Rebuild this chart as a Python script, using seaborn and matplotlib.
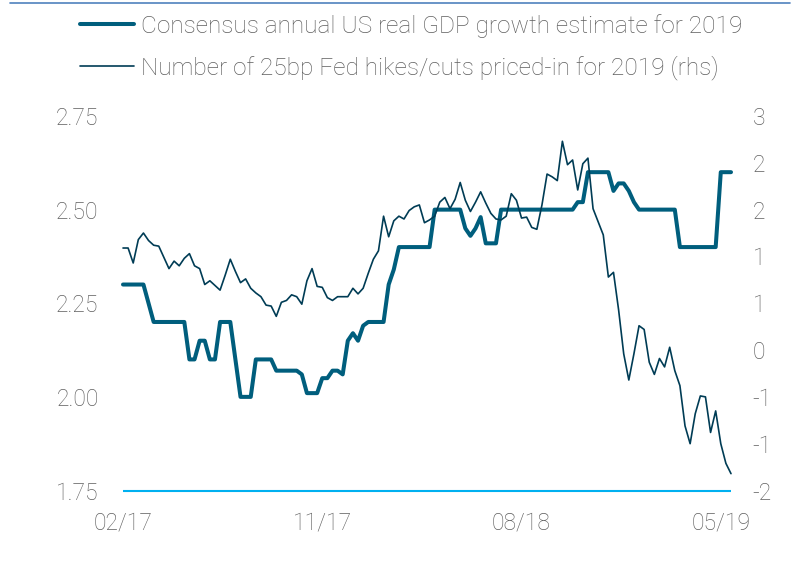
import numpy as np
import pandas as pd
import seaborn as sns
import matplotlib.pyplot as plt
import matplotlib.dates as mdates
from matplotlib.ticker import FuncFormatter
from matplotlib.lines import Line2D

# weekly observations, Feb 2017 - May 2019
dates = pd.date_range("2017-02-01", periods=120, freq="7D")

gdp_estimate = [
    2.30, 2.30, 2.30, 2.30, 2.30, 2.25, 2.20, 2.20, 2.20, 2.20,
    2.20, 2.20, 2.20, 2.10, 2.10, 2.15, 2.15, 2.10, 2.10, 2.20,
    2.20, 2.20, 2.10, 2.00, 2.00, 2.00, 2.10, 2.10, 2.10, 2.10,
    2.07, 2.07, 2.07, 2.07, 2.07, 2.06, 2.01, 2.01, 2.01, 2.05,
    2.05, 2.07, 2.07, 2.06, 2.15, 2.17, 2.15, 2.19, 2.20, 2.20,
    2.20, 2.20, 2.30, 2.34, 2.40, 2.40, 2.40, 2.40, 2.40, 2.40,
    2.40, 2.50, 2.50, 2.50, 2.50, 2.50, 2.50, 2.45, 2.43, 2.45,
    2.48, 2.41, 2.41, 2.41, 2.50, 2.50, 2.50, 2.50, 2.50, 2.50,
    2.50, 2.50, 2.50, 2.50, 2.50, 2.50, 2.50, 2.50, 2.50, 2.52,
    2.52, 2.60, 2.60, 2.60, 2.60, 2.60, 2.55, 2.57, 2.57, 2.55,
    2.52, 2.50, 2.50, 2.50, 2.50, 2.50, 2.50, 2.50, 2.50, 2.40,
    2.40, 2.40, 2.40, 2.40, 2.40, 2.40, 2.40, 2.60, 2.60, 2.60,
]

fed_hikes = [
    1.09, 1.09, 0.93, 1.18, 1.25, 1.17, 1.12, 1.11, 0.99, 0.87,
    0.95, 0.90, 0.98, 1.03, 0.90, 0.87, 0.70, 0.74, 0.69, 0.64,
    0.80, 0.97, 0.84, 0.72, 0.76, 0.66, 0.61, 0.57, 0.48, 0.47,
    0.36, 0.51, 0.53, 0.59, 0.57, 0.49, 0.74, 0.87, 0.68, 0.67,
    0.56, 0.53, 0.57, 0.57, 0.57, 0.66, 0.60, 0.66, 0.82, 0.97,
    1.06, 1.43, 1.21, 1.38, 1.43, 1.40, 1.49, 1.53, 1.55, 1.36,
    1.39, 1.43, 1.58, 1.63, 1.51, 1.61, 1.79, 1.60, 1.48, 1.58,
    1.69, 1.57, 1.46, 1.40, 1.39, 1.43, 1.67, 1.60, 1.41, 1.42,
    1.31, 1.29, 1.55, 1.88, 1.85, 1.81, 2.23, 1.98, 2.03, 1.71,
    1.99, 2.05, 1.51, 1.37, 1.23, 0.78, 0.83, 0.43, -0.04, -0.32,
    -0.04, 0.26, 0.22, -0.13, -0.26, -0.09, -0.18, 0.03, -0.22, -0.38,
    -0.81, -1.00, -0.68, -0.49, -0.50, -0.88, -0.65, -1.00, -1.21, -1.32,
]

x_ticks = ["2017-02-01", "2017-11-01", "2018-08-01", "2019-05-01"]
left_ticks = [1.75, 2.00, 2.25, 2.50, 2.75]
right_ticks = [-1.5, -1.0, -0.5, 0.0, 0.5, 1.0, 1.5, 2.0, 2.5]

gdp_label = "Consensus annual US real GDP growth estimate for 2019"
fed_label = "Number of 25bp Fed hikes/cuts priced-in for 2019 (rhs)"

GDP_C = "#005E7D"
FED_C = "#003C55"
BASE_C = "#00B0F0"
TEXT_C = "#5F5F5F"

df = pd.DataFrame({"date": dates, "gdp": gdp_estimate, "fed": fed_hikes})

sns.set_style("white")
plt.rcParams["font.family"] = ["Roboto", "DejaVu Sans"]
plt.rcParams["font.weight"] = "light"

fig = plt.figure(figsize=(7.98, 5.70), dpi=100)
ax = fig.add_axes([108.4 / 798, 79.5 / 570, 637.2 / 798, 374.5 / 570])

sns.lineplot(data=df, x="date", y="gdp", ax=ax, color=GDP_C, linewidth=2.9)
ax.hlines(1.75, dates[0], dates[-1], color=BASE_C, linewidth=1.5, clip_on=False)

ax2 = ax.twinx()
sns.lineplot(data=df, x="date", y="fed", ax=ax2, color=FED_C, linewidth=1.2)

ax.set_xlim(dates[0] - pd.Timedelta(days=20), dates[-1] + pd.Timedelta(days=20))
ax.set_ylim(1.75, 2.75)
ax2.set_ylim(-1.5, 2.5)

ax.set_xticks(pd.to_datetime(x_ticks))
ax.xaxis.set_major_formatter(mdates.DateFormatter("%m/%y"))
ax.set_yticks(left_ticks)
ax.yaxis.set_major_formatter(FuncFormatter(lambda v, p: f"{v:.2f}"))
ax2.set_yticks(right_ticks)
# excel style rounding: half away from zero
ax2.yaxis.set_major_formatter(
    FuncFormatter(lambda v, p: f"{int(np.sign(v) * np.floor(abs(v) + 0.5))}")
)

for a in (ax, ax2):
    a.set_xlabel("")
    a.set_ylabel("")
    for s in a.spines.values():
        s.set_visible(False)
    a.tick_params(length=0, labelsize=16.5, colors=TEXT_C)
ax.tick_params(axis="y", pad=7)
ax.tick_params(axis="x", pad=15)
ax2.tick_params(axis="y", pad=5)

handles = [Line2D([], [], color=GDP_C, lw=2.9), Line2D([], [], color=FED_C, lw=1.2)]
fig.legend(
    handles, [gdp_label, fed_label],
    loc="upper left", bbox_to_anchor=(80 / 798, 1 - 14 / 570),
    frameon=False, fontsize=17.6, handlelength=2.2, handletextpad=0.3,
    labelspacing=0.7, borderpad=0, borderaxespad=0, labelcolor=TEXT_C,
)

fig.add_artist(Line2D([10 / 798, 790 / 798], [1 - 3 / 570] * 2, color="#4F81BD", lw=1.2))

fig.savefig("out.png", dpi=100)
